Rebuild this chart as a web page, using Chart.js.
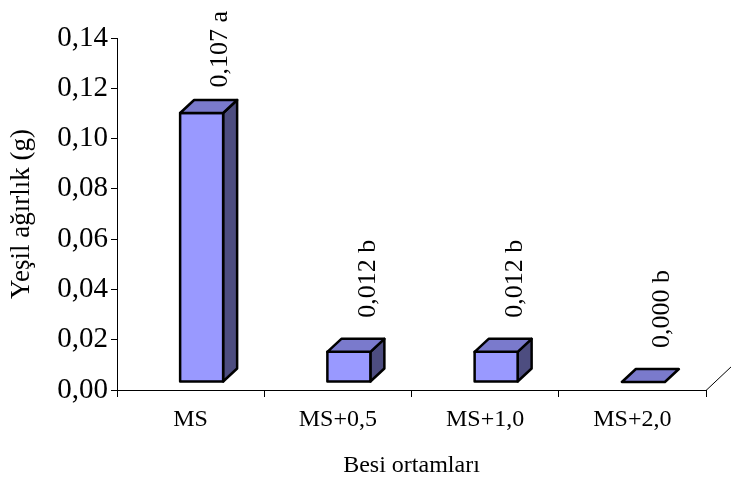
<!DOCTYPE html>
<html>
<head>
<meta charset="utf-8">
<script src="https://cdn.jsdelivr.net/npm/chart.js@4.4.0/dist/chart.umd.min.js"></script>
<style>
  html, body { margin: 0; padding: 0; background: #ffffff; }
  #wrap { width: 731px; height: 488px; }
</style>
</head>
<body>
<div id="wrap"><canvas id="c" width="731" height="488"></canvas></div>
<script>
// Culture media and mean green weight (g) with significance letters
const categories = ['MS', 'MS+0,5', 'MS+1,0', 'MS+2,0'];
const weights = [0.107, 0.012, 0.012, 0.000];
const groupLetters = ['a', 'b', 'b', 'b'];
const yMin = 0, yMax = 0.14, yStep = 0.02;

const FONT = 'Liberation Serif';
const fmt = v => v.toFixed(2).replace('.', ',');
const fmt3 = v => v.toFixed(3).replace('.', ',');

// 3D box look: front face shifted into the floor, plus depth offset
const FRONT_DX = 11, FRONT_DY = 8;
const DEPTH_X = 14, DEPTH_Y = 13;
const FRONT = '#9999ff', TOP = '#7a7acc', SIDE = '#4d4d80';

const boxes3d = {
  id: 'boxes3d',
  afterDatasetsDraw(chart) {
    const ctx = chart.ctx;
    const meta = chart.getDatasetMeta(0);
    ctx.save();
    ctx.lineWidth = 2.5;
    ctx.lineJoin = 'round';
    ctx.strokeStyle = '#000';
    meta.data.forEach((bar, i) => {
      const w = bar.width;
      const x0 = bar.x - w / 2 + FRONT_DX, x1 = x0 + w;
      const yb = bar.base - FRONT_DY, yt = bar.y - FRONT_DY;
      const poly = (pts, fill) => {
        ctx.beginPath();
        ctx.moveTo(pts[0][0], pts[0][1]);
        for (let k = 1; k < pts.length; k++) ctx.lineTo(pts[k][0], pts[k][1]);
        ctx.closePath();
        ctx.fillStyle = fill;
        ctx.fill();
        ctx.stroke();
      };
      if (yb - yt > 0.5) {
        poly([[x1, yt], [x1 + DEPTH_X, yt - DEPTH_Y], [x1 + DEPTH_X, yb - DEPTH_Y], [x1, yb]], SIDE);
        poly([[x0, yt], [x1, yt], [x1, yb], [x0, yb]], FRONT);
      }
      poly([[x0, yt], [x1, yt], [x1 + DEPTH_X, yt - DEPTH_Y], [x0 + DEPTH_X, yt - DEPTH_Y]], TOP);

      // value label, rotated, above the box
      const text = fmt3(weights[i]) + ' ' + groupLetters[i];
      ctx.font = '26px "' + FONT + '"';
      const len = ctx.measureText(text).width;
      const bottom = Math.max(yt - 34, 11 + len);
      ctx.save();
      ctx.translate(bar.x + FRONT_DX + 19, bottom);
      ctx.rotate(-Math.PI / 2);
      ctx.fillStyle = '#000';
      ctx.textAlign = 'left';
      ctx.textBaseline = 'middle';
      ctx.fillText(text, 0, 0);
      ctx.restore();
    });
    ctx.restore();
  },
  afterDraw(chart) {
    // right edge of the floor receding into depth
    const ctx = chart.ctx;
    const a = chart.chartArea;
    ctx.save();
    ctx.strokeStyle = '#000';
    ctx.lineWidth = 1;
    ctx.beginPath();
    ctx.moveTo(a.right, a.bottom + 0.5);
    ctx.lineTo(a.right + 26, a.bottom - 24);
    ctx.stroke();
    ctx.restore();
  }
};

new Chart(document.getElementById('c'), {
  type: 'bar',
  data: {
    labels: categories,
    datasets: [{
      data: weights,
      backgroundColor: 'rgba(0,0,0,0)',
      borderWidth: 0,
      categoryPercentage: 1,
      barPercentage: 0.292
    }]
  },
  options: {
    responsive: false,
    animation: false,
    devicePixelRatio: 1,
    layout: { padding: { top: 38, right: 25, left: 0, bottom: 0 } },
    plugins: { legend: { display: false }, tooltip: { enabled: false } },
    scales: {
      x: {
        afterFit: s => { s.height = 98; },
        grid: { display: true, drawOnChartArea: false, drawTicks: true, tickLength: 7, color: '#000', offset: true },
        border: { display: true, color: '#000', width: 1 },
        ticks: { color: '#000', font: { family: FONT, size: 24 }, padding: 8, maxRotation: 0 },
        title: { display: true, text: 'Besi ortamları', color: '#000', font: { family: FONT, size: 24 }, padding: { top: 0, bottom: 8 } }
      },
      y: {
        min: yMin, max: yMax,
        afterFit: s => { s.width = 117; },
        grid: { display: true, drawOnChartArea: false, drawTicks: true, tickLength: 6, color: '#000' },
        border: { display: true, color: '#000', width: 1 },
        ticks: { stepSize: yStep, color: '#000', font: { family: FONT, size: 29 }, padding: 3, callback: v => fmt(v) },
        title: { display: true, text: 'Yeşil ağırlık (g)', color: '#000', font: { family: FONT, size: 27 }, padding: { top: 6, bottom: 0 } }
      }
    }
  },
  plugins: [boxes3d]
});
</script>
</body>
</html>
